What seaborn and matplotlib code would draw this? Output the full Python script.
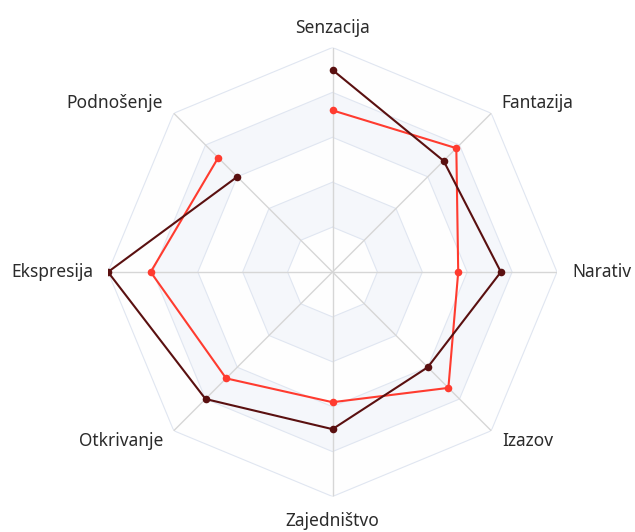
import numpy as np
import pandas as pd
import matplotlib
matplotlib.use("Agg")
import matplotlib.pyplot as plt
import seaborn as sns

# Radar dimensions, clockwise from the top
categories = ["Senzacija", "Fantazija", "Narativ", "Izazov",
              "Zajedništvo", "Otkrivanje", "Ekspresija", "Podnošenje"]
series_dark = [90, 70, 75, 60, 70, 80, 100, 60]
series_red = [72, 78, 56, 73, 58, 67, 81, 72]
max_value = 100

sns.set_style("white")
plt.rcParams["font.family"] = ["Noto Sans", "DejaVu Sans"]

W, H = 635, 532
fig = plt.figure(figsize=(W / 100, H / 100), dpi=100)
cx, cy, R = 332.5, 272.0, 224.5
ax = fig.add_axes([(cx - R) / W, (H - cy - R) / H, 2 * R / W, 2 * R / H],
                  projection="polar")
ax.set_theta_zero_location("N")
ax.set_theta_direction(-1)
ax.set_ylim(0, 1)
ax.grid(False)
ax.set_xticks([])
ax.set_yticks([])
ax.spines["polar"].set_visible(False)
ax.set_facecolor("none")

n = len(categories)
theta = np.arange(n) * 2 * np.pi / n
theta_closed = np.append(theta, theta[0])

# Alternating bands between the octagonal rings
levels = np.linspace(0, 1, 6)
band_colors = ["#fefefe", "#f5f7fb"]
for i in range(5, 0, -1):
    ax.fill(theta_closed, np.full(n + 1, levels[i]),
            color=band_colors[(i - 1) % 2], zorder=0, lw=0)
for lv in levels[1:]:
    ax.plot(theta_closed, np.full(n + 1, lv), color="#e0e6f1", lw=0.8, zorder=1)
for t in theta:
    ax.plot([t, t], [0, 1], color="#d6d6d6", lw=1.0, zorder=1)

# Series polygons with markers
for vals, color in [(series_red, "#ff3b2f"), (series_dark, "#5a1010")]:
    r = np.array(vals + [vals[0]], dtype=float) / max_value
    df = pd.DataFrame({"theta": theta_closed, "r": r})
    sns.lineplot(data=df, x="theta", y="r", sort=False, color=color,
                 lw=1.5, ax=ax, zorder=3)
    sns.scatterplot(data=df.iloc[:-1], x="theta", y="r", color=color,
                    s=30, edgecolor=color, linewidth=0, ax=ax, zorder=4)
ax.set_xlabel("")
ax.set_ylabel("")
ax.set_ylim(0, 1)

# Axis names placed just outside the outer ring
gap = 15
for t, name in zip(theta, categories):
    s, c = np.sin(t), np.cos(t)
    dx, dy = gap * s, gap * c
    ha = "left" if s > 0.01 else ("right" if s < -0.01 else "center")
    if c > 0.99:
        va = "baseline"
        dy -= 0.5
    elif c < -0.99:
        va = "top"
    else:
        va = "center"
    ax.annotate(name, xy=(t, 1), xytext=(dx, dy), textcoords="offset pixels",
                ha=ha, va=va, fontsize=12.5, color="#2b2b2b")

fig.savefig("out.png", dpi=100)
